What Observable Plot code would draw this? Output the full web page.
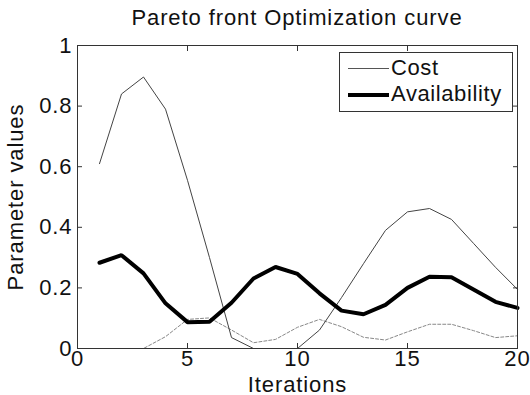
<!DOCTYPE html>
<html><head><meta charset="utf-8">
<script src="https://cdn.jsdelivr.net/npm/d3@7"></script>
<script src="https://cdn.jsdelivr.net/npm/@observablehq/plot@0.6"></script>
<style>
body{margin:0;background:#fff;}
#wrap{position:relative;width:530px;height:395px;overflow:hidden;font-family:"Liberation Sans",Arial,sans-serif;}
#title{position:absolute;left:77px;width:440px;top:6px;line-height:24px;text-align:center;font-size:22px;letter-spacing:0.9px;color:#111;}
#legend{position:absolute;left:339px;top:52px;width:172px;height:58px;border:1px solid #333;background:#fff;font-size:22px;letter-spacing:0.6px;color:#111;}
.row{position:absolute;left:0;height:26px;line-height:26px;}
.sw{position:absolute;left:8px;width:41px;}
.lab{position:absolute;left:51px;white-space:nowrap;}
#chart svg text{letter-spacing:0.9px;}
</style></head>
<body>
<div id="wrap">
  <div id="chart"></div>
  <div id="title">Pareto front Optimization curve</div>
  <div id="legend">
    <div class="row" style="top:2px"><div class="sw" style="top:13px;border-top:1px solid #555"></div><div class="lab">Cost</div></div>
    <div class="row" style="top:28px"><div class="sw" style="top:12px;border-top:4px solid #000"></div><div class="lab">Availability</div></div>
  </div>
</div>
<script>
const iterations = [1,2,3,4,5,6,7,8,9,10,11,12,13,14,15,16,17,18,19,20];
const cost = [0.61,0.84,0.896,0.79,0.555,0.30,0.036,0,0,0,0.061,0.168,0.28,0.39,0.451,0.462,0.426,0.347,0.268,0.195];
const availability = [0.283,0.308,0.248,0.149,0.087,0.088,0.151,0.231,0.269,0.246,0.182,0.125,0.113,0.144,0.2,0.237,0.235,0.195,0.154,0.134];
const third = [0,0,0,0.039,0.096,0.101,0.061,0.019,0.03,0.07,0.096,0.072,0.037,0.028,0.055,0.08,0.08,0.059,0.036,0.042];
const xTicks = [0,5,10,15,20];
const yTicks = [0,0.2,0.4,0.6,0.8,1];

const rows = iterations.map((it, i) => ({it, cost: cost[i], availability: availability[i], third: third[i]}));

const chart = Plot.plot({
  width: 530,
  height: 395,
  marginLeft: 77,
  marginRight: 13,
  marginTop: 45,
  marginBottom: 47,
  style: {fontFamily: "Liberation Sans, Arial, sans-serif", fontSize: "22px", color: "#111", background: "#fff"},
  x: {domain: [0, 20]},
  y: {domain: [0, 1]},
  marks: [
    Plot.line(rows, {x: "it", y: "third", stroke: "#888", strokeWidth: 1, strokeDasharray: "3,2"}),
    Plot.line(rows, {x: "it", y: "cost", stroke: "#444", strokeWidth: 1}),
    Plot.line(rows, {x: "it", y: "availability", stroke: "#000", strokeWidth: 4, strokeLinejoin: "miter"}),
    Plot.frame({stroke: "#333", strokeWidth: 1}),
    Plot.axisX({anchor: "bottom", ticks: xTicks, tickSize: -5, tickPadding: 7, tickFormat: d => String(d), fontSize: 22, stroke: "#333",
      label: "Iterations", labelAnchor: "center", labelOffset: 43, labelArrow: "none"}),
    Plot.axisX({anchor: "top", ticks: xTicks, tickSize: -5, tickFormat: () => "", label: null, stroke: "#333"}),
    Plot.axisY({anchor: "left", ticks: yTicks, tickSize: -5, tickPadding: 10, tickFormat: d => String(d), fontSize: 22, stroke: "#333",
      label: "Parameter values", labelAnchor: "center", labelOffset: 70, labelArrow: "none"}),
    Plot.axisY({anchor: "right", ticks: yTicks, tickSize: -5, tickFormat: () => "", label: null, stroke: "#333"})
  ]
});
document.getElementById("chart").appendChild(chart);
</script>
</body></html>
